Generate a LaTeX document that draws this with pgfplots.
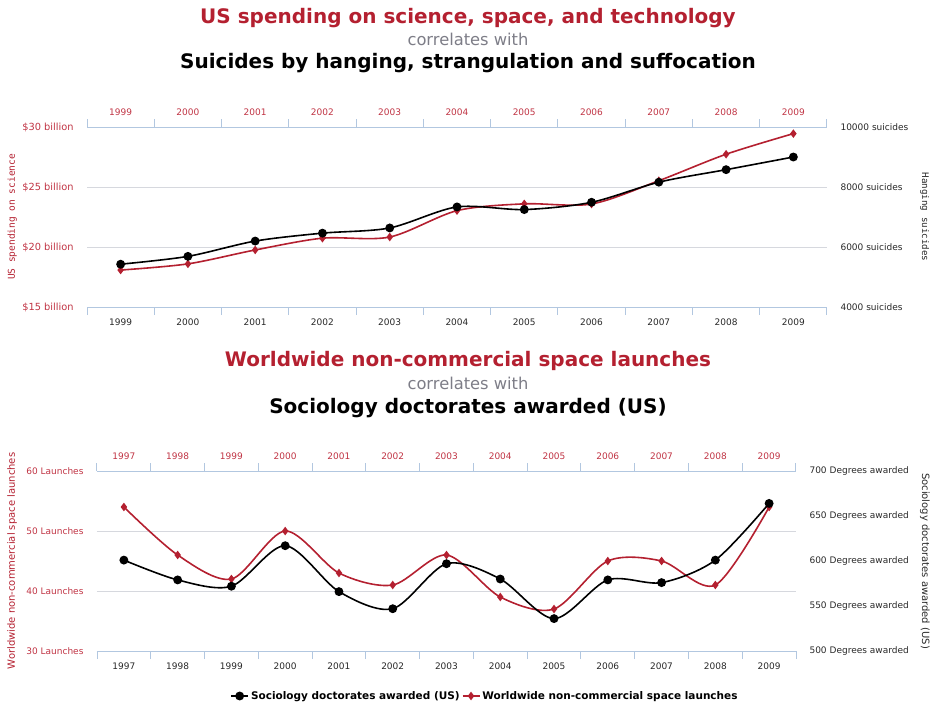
\documentclass[border=0pt]{standalone}
\usepackage{pgfplots}
\pgfplotsset{compat=1.18}
\usepackage{fontspec}
\setmainfont{DejaVu Sans}
\newfontfamily\monofont{DejaVu Sans Mono}
\definecolor{sred}{RGB}{180,32,48}
\definecolor{tred}{RGB}{192,52,68}
\definecolor{cgray}{RGB}{125,125,135}
\definecolor{axblue}{RGB}{178,199,224}
\definecolor{gridgray}{RGB}{214,216,222}
\definecolor{tblack}{RGB}{40,40,40}

\pgfplotstableread{
year spend suicides
1999 18.079 5427
2000 18.594 5688
2001 19.753 6198
2002 20.734 6462
2003 20.831 6635
2004 23.029 7336
2005 23.597 7248
2006 23.584 7491
2007 25.525 8161
2008 27.731 8578
2009 29.449 9000
}\topdata

\pgfplotstableread{
year launches degrees
1997 54 601
1998 46 579
1999 42 572
2000 50 617
2001 43 566
2002 41 547
2003 46 597
2004 39 580
2005 37 536
2006 45 579
2007 45 576
2008 41 601
2009 54 664
}\botdata

\pgfplotsset{
  base/.style={
    scale only axis,
    height=180pt,
    anchor=south west,
    major tick length=0pt,
    minor tick length=8pt,
    xtick align=outside,
    x axis line style={draw=axblue, line width=1pt, -},
    y axis line style={draw=none},
    minor x tick style={draw=axblue, line width=1pt},
    major x tick style={draw=none},
    ytick style={draw=none},
    scaled y ticks=false,
    tick label style={font=\fontsize{9}{10}\selectfont},
    clip=false,
  },
  redline/.style={sred, line width=1.6pt, smooth, tension=0.5, mark=diamond*, mark size=3pt, mark options={solid, fill=sred, draw=sred}},
  blackline/.style={black, line width=1.6pt, smooth, tension=0.5, mark=*, mark size=3.6pt, mark options={solid, fill=black, draw=black}},
}

\begin{document}
\begin{tikzpicture}[x=1pt,y=1pt]
\useasboundingbox (0,0) rectangle (931,-707);

% ---------- titles chart 1
\node[font=\fontsize{20}{23}\selectfont\bfseries, text=sred] at (468,-18) {US spending on science, space, and technology};
\node[font=\fontsize{16.3}{18}\selectfont, text=cgray] at (468,-39) {correlates with};
\node[font=\fontsize{20}{23}\selectfont\bfseries, text=black] at (468,-63) {Suicides by hanging, strangulation and suffocation};

% ---------- chart 1, left axis (red)
\begin{axis}[base,
  at={(87pt,-307pt)}, width=740pt,
  xmin=1998.5, xmax=2009.5,
  xtick={1999,...,2009},
  xticklabels={1999,2000,2001,2002,2003,2004,2005,2006,2007,2008,2009},
  minor xtick={1998.5,1999.5,...,2009.5},
  axis x line*=top,
  axis y line*=left,
  xticklabel style={text=tred, yshift=8pt},
  ymin=15, ymax=30,
  ytick={15,20,25,30},
  yticklabels={\$15 billion,\$20 billion,\$25 billion,\$30 billion},
  yticklabel style={text=tred, xshift=-10pt, font=\fontsize{9.8}{10}\selectfont},
  ymajorgrids, grid style={draw=gridgray, line width=0.9pt},
  ylabel={US spending on science},
  every axis y label/.style={at={(axis description cs:-0.101,0.5)}, rotate=90, anchor=center, font=\monofont\fontsize{9.5}{10}\selectfont, text=sred},
]
\addplot[redline] table[x=year, y=spend] {\topdata};
\end{axis}

% ---------- chart 1, right axis (black)
\begin{axis}[base,
  at={(87pt,-307pt)}, width=740pt,
  xmin=1998.5, xmax=2009.5,
  xtick={1999,...,2009},
  xticklabels={1999,2000,2001,2002,2003,2004,2005,2006,2007,2008,2009},
  minor xtick={1998.5,1999.5,...,2009.5},
  axis x line*=bottom,
  axis y line*=right,
  xticklabel style={text=tblack, yshift=-8pt},
  ymin=4000, ymax=10000,
  ytick={4000,6000,8000,10000},
  yticklabels={4000 suicides,6000 suicides,8000 suicides,10000 suicides},
  yticklabel style={text=tblack, xshift=10pt},
  ylabel={Hanging suicides},
  every axis y label/.style={at={(axis description cs:1.132,0.5)}, rotate=-90, anchor=center, font=\monofont\fontsize{9.2}{10}\selectfont, text=tblack},
]
\addplot[blackline] table[x=year, y=suicides] {\topdata};
\end{axis}

% ---------- titles chart 2
\node[font=\fontsize{20}{23}\selectfont\bfseries, text=sred] at (468,-361) {Worldwide non-commercial space launches};
\node[font=\fontsize{16.3}{18}\selectfont, text=cgray] at (468,-383) {correlates with};
\node[font=\fontsize{20}{23}\selectfont\bfseries, text=black] at (468,-408) {Sociology doctorates awarded (US)};

% ---------- chart 2, left axis (red)
\begin{axis}[base,
  at={(97pt,-651pt)}, width=699pt,
  xmin=1996.5, xmax=2009.5,
  xtick={1997,...,2009},
  xticklabels={1997,1998,1999,2000,2001,2002,2003,2004,2005,2006,2007,2008,2009},
  minor xtick={1996.5,1997.5,...,2009.5},
  axis x line*=top,
  axis y line*=left,
  xticklabel style={text=tred, yshift=8pt},
  ymin=30, ymax=60,
  ytick={30,40,50,60},
  yticklabels={30 Launches,40 Launches,50 Launches,60 Launches},
  yticklabel style={text=tred, xshift=-10pt},
  ymajorgrids, grid style={draw=gridgray, line width=0.9pt},
  ylabel={Worldwide non-commercial space launches},
  every axis y label/.style={at={(axis description cs:-0.1216,0.5)}, rotate=90, anchor=center, font=\fontsize{10}{11}\selectfont, text=sred},
]
\addplot[redline] table[x=year, y=launches] {\botdata};
\end{axis}

% ---------- chart 2, right axis (black)
\begin{axis}[base,
  at={(97pt,-651pt)}, width=699pt,
  xmin=1996.5, xmax=2009.5,
  xtick={1997,...,2009},
  xticklabels={1997,1998,1999,2000,2001,2002,2003,2004,2005,2006,2007,2008,2009},
  minor xtick={1996.5,1997.5,...,2009.5},
  axis x line*=bottom,
  axis y line*=right,
  xticklabel style={text=tblack, yshift=-8pt},
  ymin=500, ymax=700,
  ytick={500,550,600,650,700},
  yticklabels={500 Degrees awarded,550 Degrees awarded,600 Degrees awarded,650 Degrees awarded,700 Degrees awarded},
  yticklabel style={text=tblack, xshift=10pt},
  ylabel={Sociology doctorates awarded (US)},
  every axis y label/.style={at={(axis description cs:1.1845,0.5)}, rotate=-90, anchor=center, font=\fontsize{10}{11}\selectfont, text=tblack},
  legend style={at={(0.555,-0.25)}, anchor=center, draw=none, fill=none, legend columns=2, font=\fontsize{10.5}{12}\selectfont\bfseries, /tikz/every even column/.append style={column sep=0pt}, inner sep=0pt},
  legend cell align=left,
]
\addplot[blackline] table[x=year, y=degrees] {\botdata};
\addlegendentry{Sociology doctorates awarded (US)}
\addlegendimage{redline}
\addlegendentry{Worldwide non-commercial space launches}
\end{axis}
\end{tikzpicture}
\end{document}
